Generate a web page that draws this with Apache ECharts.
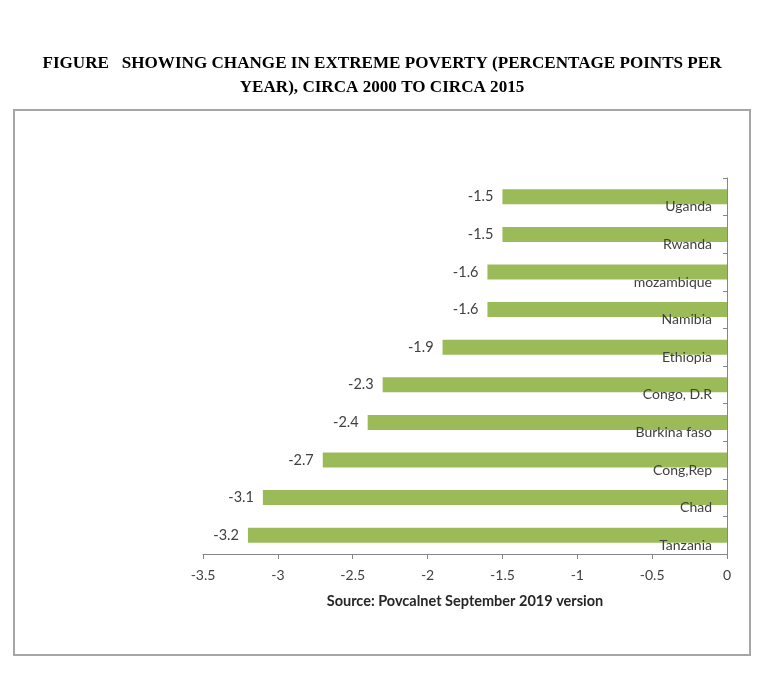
<!DOCTYPE html>
<html>
<head>
<meta charset="utf-8">
<script src="https://cdn.jsdelivr.net/npm/echarts@6/dist/echarts.min.js"></script>
<style>
html,body{margin:0;padding:0;background:#fff;}
#chart{width:768px;height:678px;}
</style>
</head>
<body>
<div id="chart"></div>
<script>
const categories = ['Tanzania','Chad','Cong,Rep','Burkina faso','Congo, D.R','Ethiopia','Namibia','mozambique','Rwanda','Uganda'];
const values = [-3.2,-3.1,-2.7,-2.4,-2.3,-1.9,-1.6,-1.6,-1.5,-1.5];
const titleLines = ['FIGURE   SHOWING CHANGE IN EXTREME POVERTY (PERCENTAGE POINTS PER','YEAR), CIRCA 2000 TO CIRCA 2015'];
const sourceText = 'Source: Povcalnet September 2019 version';

const chart = echarts.init(document.getElementById('chart'));
chart.setOption({
  animation: false,
  title: {
    text: titleLines.join('\n'),
    left: 377, top: 47, textAlign: 'center',
    textStyle: {fontFamily: 'Liberation Serif', fontWeight: 'bold', fontSize: 17.1, color: '#000', lineHeight: 24}
  },
  graphic: [{
    type: 'rect', shape: {x: 14, y: 110, width: 736, height: 545},
    style: {fill: 'none', stroke: '#a6a6a6', lineWidth: 2}, silent: true
  }],
  grid: {left: 203, right: 41, top: 178, bottom: 124},
  xAxis: {
    type: 'value', min: -3.5, max: 0, interval: 0.5,
    axisLine: {show: true, lineStyle: {color: '#868686'}},
    axisTick: {show: true, length: 5, lineStyle: {color: '#868686'}},
    splitLine: {show: false},
    axisLabel: {color: '#404040', fontFamily: 'Lato', fontSize: 14, margin: 14},
    name: sourceText, nameLocation: 'middle', nameGap: 40,
    nameTextStyle: {fontFamily: 'Lato', fontWeight: 'bold', fontSize: 14.5, color: '#262626'}
  },
  yAxis: {
    type: 'category', data: categories, position: 'right', z: 10,
    axisLine: {show: true, lineStyle: {color: '#868686'}},
    axisTick: {show: true, inside: true, length: 4, lineStyle: {color: '#868686'}},
    axisLabel: {inside: true, margin: 15, verticalAlign: 'top', lineHeight: 20, color: '#404040', fontFamily: 'Lato', fontSize: 14}
  },
  series: [{
    type: 'bar', data: values, barWidth: 15, z: 2,
    itemStyle: {color: '#9bbb59'},
    label: {show: true, position: 'left', distance: 9, color: '#404040', fontFamily: 'Lato', fontSize: 14.5}
  }]
});
</script>
</body>
</html>
